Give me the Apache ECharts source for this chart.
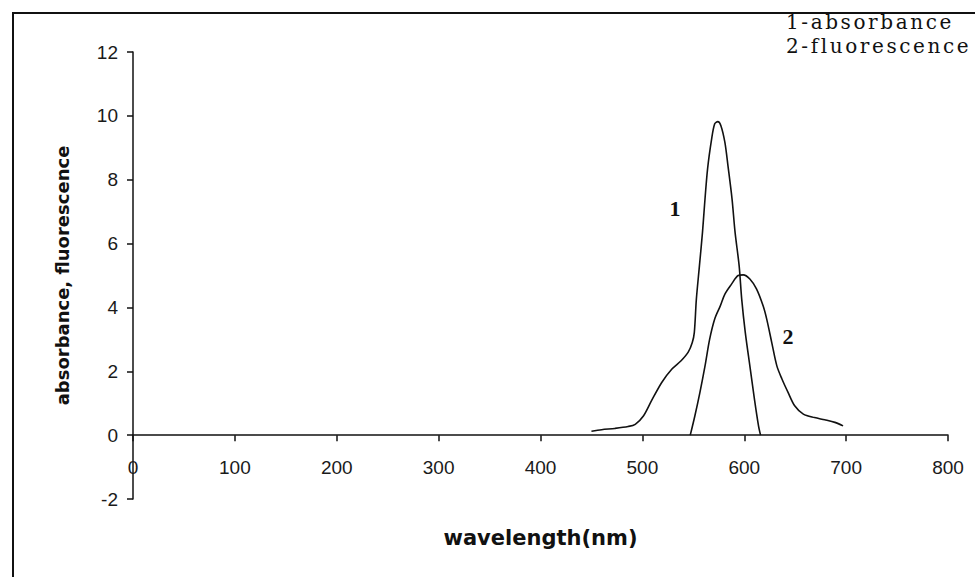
<!DOCTYPE html>
<html>
<head>
<meta charset="utf-8">
<script src="https://cdn.jsdelivr.net/npm/echarts@6/dist/echarts.min.js"></script>
<style>
  html, body { margin: 0; padding: 0; background: #fff; }
  #chart { width: 975px; height: 577px; }
  /* the key text in the corner is set loosely spaced */
  #chart text[style*="DejaVu Serif"] { letter-spacing: 2.6px; }
</style>
</head>
<body>
<div id="chart"></div>
<script>
// Wavelength (nm) / intensity pairs for the two spectra
const absorbanceWavelengths = [450, 460, 473, 486, 493, 501, 509, 519, 529, 538, 545, 549, 551, 553, 556, 559, 561, 564, 568, 571, 574, 577, 581, 584, 588, 591, 595, 597.5, 601, 605.5, 610, 614, 616];
const absorbanceValues      = [0.12, 0.17, 0.21, 0.27, 0.34, 0.6, 1.08, 1.65, 2.07, 2.33, 2.6, 2.9, 3.22, 4.26, 5.3, 6.35, 7.2, 8.34, 9.28, 9.75, 9.82, 9.7, 9.17, 8.44, 7.4, 6.35, 5.3, 4.26, 3.22, 2.17, 1.13, 0.29, 0];

const fluorescenceWavelengths = [547, 551.5, 556.5, 561.5, 566, 571, 576.5, 581, 587.5, 594, 599, 605.5, 612, 618.5, 622, 627, 632, 637, 643, 649.5, 658, 669, 679, 689, 697];
const fluorescenceValues      = [0, 0.6, 1.34, 2.17, 3.0, 3.64, 4.05, 4.42, 4.73, 5.0, 5.02, 4.89, 4.58, 4.05, 3.64, 2.9, 2.17, 1.76, 1.34, 0.92, 0.66, 0.55, 0.48, 0.4, 0.29];

// Axis ranges
const xTicks = { min: 0, max: 800, step: 100 };
const yTicks = { min: -2, max: 12, step: 2 };

// Curve tags placed in data space
const curveTags = [
  { text: '1', at: [532, 7.1] },
  { text: '2', at: [643, 3.1] }
];
const legendLines = ['1-absorbance', '2-fluorescence'];

const zip = (xs, ys) => xs.map((x, i) => [x, ys[i]]);

const chart = echarts.init(document.getElementById('chart'), null, { renderer: 'svg' });

const tickFont = { color: '#1a1a1a', fontFamily: 'Liberation Sans, Arial, sans-serif', fontSize: 19 };
const lineStyle = { color: '#111', width: 1.6 };

chart.setOption({
  animation: false,
  backgroundColor: '#fff',
  grid: { left: 133, right: 27, top: 52, bottom: 78, containLabel: false, outerBoundsMode: 'none' },
  xAxis: {
    type: 'value',
    min: xTicks.min, max: xTicks.max, interval: xTicks.step,
    name: 'wavelength(nm)',
    nameLocation: 'middle',
    // label and name offsets count from the bottom edge of the grid,
    // the axis line itself sits on y = 0
    nameGap: 28,
    nameTextStyle: { fontFamily: 'DejaVu Sans, sans-serif', fontWeight: 'bold', fontSize: 21, color: '#111' },
    axisLine: { onZero: true, lineStyle: { color: '#111', width: 1.5 } },
    axisTick: { show: true, inside: false, length: 6, lineStyle: { color: '#111', width: 1.5 } },
    axisLabel: Object.assign({ margin: -41 }, tickFont),
    splitLine: { show: false }
  },
  yAxis: {
    type: 'value',
    min: yTicks.min, max: yTicks.max, interval: yTicks.step,
    name: 'absorbance, fluorescence',
    nameLocation: 'middle',
    nameGap: 62,
    nameTextStyle: { fontFamily: 'DejaVu Sans, sans-serif', fontWeight: 'bold', fontSize: 18, color: '#111' },
    axisLine: { onZero: false, lineStyle: { color: '#111', width: 1.5 } },
    axisTick: { show: true, inside: false, length: 6, lineStyle: { color: '#111', width: 1.5 } },
    axisLabel: Object.assign({ margin: 15 }, tickFont),
    splitLine: { show: false }
  },
  series: [
    {
      name: 'absorbance',
      type: 'line',
      data: zip(absorbanceWavelengths, absorbanceValues),
      showSymbol: false,
      smooth: 0.3,
      lineStyle: lineStyle
    },
    {
      name: 'fluorescence',
      type: 'line',
      data: zip(fluorescenceWavelengths, fluorescenceValues),
      showSymbol: false,
      smooth: 0.3,
      lineStyle: lineStyle
    }
  ]
});

// Outer frame, curve tags and the key text in the top-right corner
const graphics = [
  {
    type: 'rect', silent: true, z: 0,
    shape: { x: 13, y: 13, width: 1000, height: 700 },
    style: { fill: null, stroke: '#111', lineWidth: 2 }
  }
];
curveTags.forEach(tag => {
  const p = chart.convertToPixel({ gridIndex: 0 }, tag.at);
  graphics.push({
    type: 'text', x: p[0], y: p[1], z: 10,
    style: { text: tag.text, fill: '#111', font: 'bold 22px "Liberation Serif", "Times New Roman", serif', align: 'center', verticalAlign: 'middle' }
  });
});
legendLines.forEach((line, i) => {
  graphics.push({
    type: 'text', x: 786, y: 22 + i * 24, z: 10,
    style: { text: line, fill: '#111', font: '20px "DejaVu Serif", serif', align: 'left', verticalAlign: 'middle' }
  });
});
chart.setOption({ graphic: graphics });
</script>
</body>
</html>
